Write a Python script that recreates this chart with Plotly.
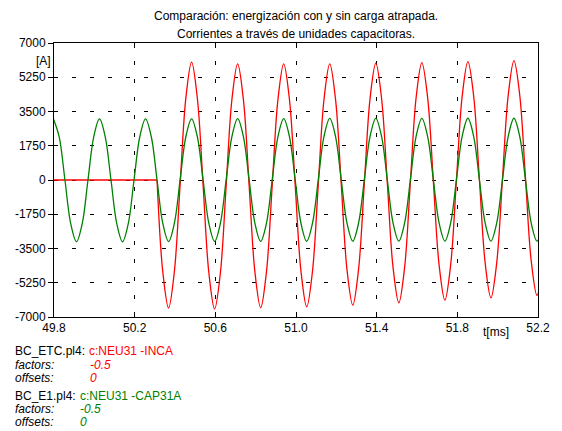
import plotly.graph_objects as go

# ---------------- data ----------------
# uniformly sampled waveforms: first sample time and sample step [ms]
SAMPLE_T0 = 49.7972
SAMPLE_DT = 0.028545
ENERGIZE_INDEX = 18  # sample at which the INCA current starts to flow

# c:NEU31 -CAP31A (BC_E1.pl4), factor -0.5  [A]
green_vals = [
    3120, 2205, 0, -2225, -3150, -2225, 0, 2205,
    3120, 2205, 0, -2225, -3155, -2225, 0, 2210,
    3125, 2210, 0, -2220, -3145, -2220, 0, 2210,
    3125, 2210, 0, -2220, -3140, -2220, 0, 2215,
    3135, 2215, 0, -2215, -3135, -2215, 0, 2220,
    3140, 2220, 0, -2210, -3130, -2210, 0, 2225,
    3145, 2225, 0, -2210, -3125, -2210, 0, 2225,
    3150, 2225, 0, -2205, -3125, -2205, 0, 2230,
    3150, 2230, 0, -2205, -3120, -2205, 0, 2230,
    3155, 2230, 0, -2205, -3120, -2205, 0, 2230,
    3155, 2230, 0, -2205, -3120, -2205,
]

# c:NEU31 -INCA (BC_ETC.pl4), factor -0.5  [A]
red_vals = [
    0, 0, 0, 0, 0, 0, 0, 0,
    0, 0, 0, 0, 0, 0, 0, 0,
    0, 0,
    0, -4700, -6540, -4700, -260, 4180, 6020, 4175,
    -280, -4740, -6585, -4750, -325, 4100, 5935, 4105,
    -300, -4705, -6530, -4705, -300, 4105, 5935, 4115,
    -275, -4660, -6480, -4660, -275, 4115, 5935, 4130,
    -230, -4590, -6395, -4580, -210, 4160, 5970, 4175,
    -155, -4480, -6275, -4480, -140, 4200, 6000, 4220,
    -70, -4360, -6140, -4350, -45, 4265, 6050, 4280,
    15, -4250, -6020, -4245, 40, 4325, 6100, 4345,
    100, -4140, -5900, -4150,
]

x_tickvals = [49.8, 50.2, 50.6, 51.0, 51.4, 51.8, 52.2]
x_ticktext = ["49.8", "50.2", "50.6", "51.0", "51.4", "51.8", "52.2"]
y_tickvals = [-7000, -5250, -3500, -1750, 0, 1750, 3500, 5250, 7000]
y_ticktext = ["-7000", "-5250", "-3500", "-1750", "0", "1750", "3500", "5250", "7000"]

title_lines = ["Comparación: energización con y sin carga atrapada.",
               "Corrientes a través de unidades capacitoras."]

# ---------------- layout geometry ----------------
W, H = 562, 431
ML, MR, MT, MB = 54, 13, 43, 114
PW = W - ML - MR
PH = H - MT - MB

def px(xpix):
    return (xpix - ML) / PW

def py(ypix):
    return (H - MB - ypix) / PH

RED = "#ff0000"
GREEN = "#008000"
FONT = "Liberation Sans, Arial, sans-serif"

fig = go.Figure()
# INCA before energization (flat) and after (oscillation)
fig.add_trace(go.Scatter(
    x0=SAMPLE_T0, dx=SAMPLE_DT, y=red_vals[:ENERGIZE_INDEX + 1], mode="lines",
    line=dict(color=RED, width=1.3), showlegend=False, name="c:NEU31 -INCA"))
fig.add_trace(go.Scatter(
    x0=SAMPLE_T0 + ENERGIZE_INDEX * SAMPLE_DT, dx=SAMPLE_DT,
    y=red_vals[ENERGIZE_INDEX:], mode="lines",
    line=dict(color=RED, width=1.3, shape="spline", smoothing=1.0),
    showlegend=False, name="c:NEU31 -INCA"))
fig.add_trace(go.Scatter(
    x0=SAMPLE_T0, dx=SAMPLE_DT, y=green_vals, mode="lines",
    line=dict(color=GREEN, width=1.3, shape="spline", smoothing=1.0),
    showlegend=False, name="c:NEU31 -CAP31A"))

axis_common = dict(
    showline=True, linecolor="#000000", linewidth=1,
    showgrid=True, gridcolor="#000000", gridwidth=1, griddash="4px,14px",
    zeroline=False, tickcolor="#000000", tickwidth=1,
    tickfont=dict(family=FONT, size=12, color="#000000"),
)

fig.update_xaxes(range=[49.8, 52.2], tickmode="array", tickvals=x_tickvals,
                 ticktext=x_ticktext, ticks="inside", ticklen=5, mirror="ticks",
                 **axis_common)
fig.update_yaxes(range=[-7000, 7000], tickmode="array", tickvals=y_tickvals,
                 ticktext=y_ticktext, ticks="outside", ticklen=5, mirror=True,
                 **axis_common)

ann = []
def text(xpix, ypix, s, color="#000000", anchor="left", italic=False, size=12):
    ann.append(dict(
        x=px(xpix), y=py(ypix), xref="paper", yref="paper",
        text=(f"<i>{s}</i>" if italic else s), showarrow=False,
        xanchor=anchor, yanchor="middle",
        font=dict(family=FONT, size=size, color=color)))

# title
text(ML + PW / 2, 16.5, title_lines[0], anchor="center")
text(ML + PW / 2, 33.5, title_lines[1], anchor="center")
# axis units
text(43, 61, "[A]", anchor="center")
text(506, 332, "t[ms]", anchor="center")
# series info block
text(12, 351, "BC_ETC.pl4:")
text(88, 351, "c:NEU31 -INCA", color=RED)
text(12, 365, "factors:", italic=True)
text(89, 365, "-0.5", color=RED, italic=True)
text(12, 378, "offsets:", italic=True)
text(89, 378, "0", color=RED, italic=True)
text(12, 396, "BC_E1.pl4:")
text(79, 396, "c:NEU31 -CAP31A", color=GREEN)
text(12, 409, "factors:", italic=True)
text(79, 409, "-0.5", color=GREEN, italic=True)
text(12, 422, "offsets:", italic=True)
text(79, 422, "0", color=GREEN, italic=True)

fig.update_layout(
    width=W, height=H,
    margin=dict(l=ML, r=MR, t=MT, b=MB, pad=0),
    paper_bgcolor="#ffffff", plot_bgcolor="#ffffff",
    font=dict(family=FONT, size=12, color="#000000"),
    annotations=ann,
    showlegend=False,
)

fig.write_html("out.html",
               config={"displayModeBar": False},
               post_script="document.body.style.margin='0px';"
                           "document.body.style.overflow='hidden';")
